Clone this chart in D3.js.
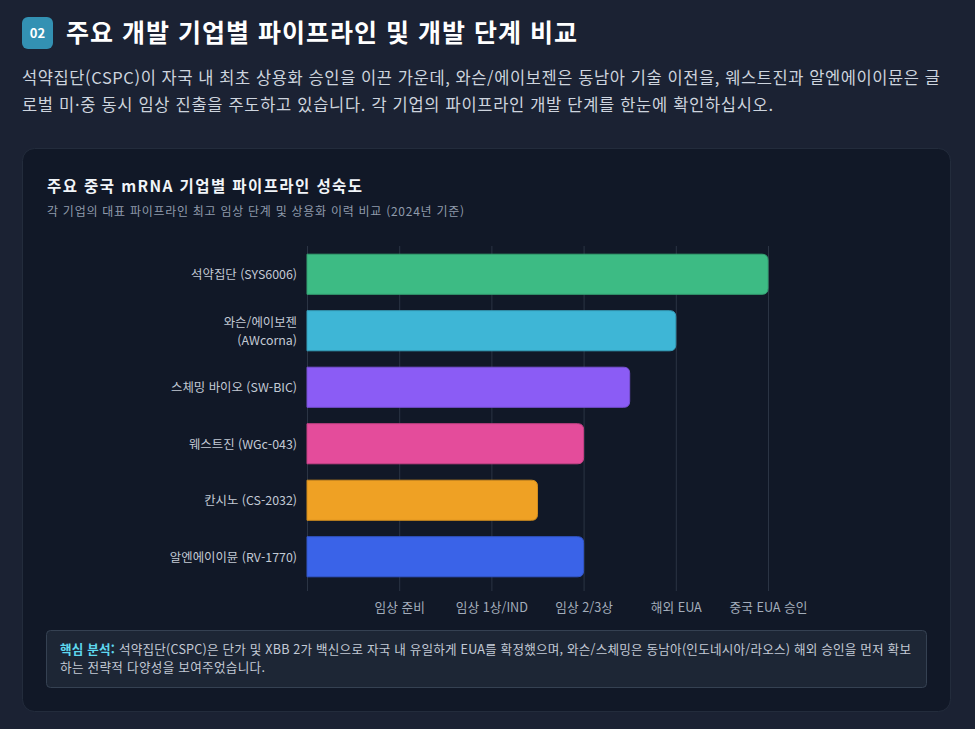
<!DOCTYPE html>
<html lang="ko">
<head>
<meta charset="utf-8">
<script src="https://cdn.jsdelivr.net/npm/d3@7"></script>
<style>
  html, body { margin: 0; padding: 0; background: #1b2233; }
  svg { display: block; font-family: "Noto Sans CJK KR", "Noto Sans", sans-serif; }
</style>
</head>
<body>
<div id="chart"></div>
<script>
const W = 975, H = 729;

// chart data
const companies = [
    ["석약집단 (SYS6006)"],
    ["와슨/에이보젠", "(AWcorna)"],
    ["스체밍 바이오 (SW-BIC)"],
    ["웨스트진 (WGc-043)"],
    ["칸시노 (CS-2032)"],
    ["알엔에이이뮨 (RV-1770)"]
];
const stageValues = [5, 4, 3.5, 3, 2.5, 3];
const barColors = ["#3dbb84", "#3eb6d6", "#8b5cf5", "#e44c9b", "#efa124", "#3a63e8"];
const stageTicks = [0, 1, 2, 3, 4, 5];
const stageLabels = ["", "임상 준비", "임상 1상/IND", "임상 2/3상", "해외 EUA", "중국 EUA 승인"];

// texts
const headTitle = "주요 개발 기업별 파이프라인 및 개발 단계 비교";
const headLines = [
    "석약집단(CSPC)이 자국 내 최초 상용화 승인을 이끈 가운데, 와슨/에이보젠은 동남아 기술 이전을, 웨스트진과 알엔에이이뮨은 글",
    "로벌 미·중 동시 임상 진출을 주도하고 있습니다. 각 기업의 파이프라인 개발 단계를 한눈에 확인하십시오."
];
const headWidths = [918, 751];
const chartTitle = "주요 중국 mRNA 기업별 파이프라인 성숙도";
const chartSub = "각 기업의 대표 파이프라인 최고 임상 단계 및 상용화 이력 비교 (2024년 기준)";
const noteLead = "핵심 분석:";
const noteLines = [
    " 석약집단(CSPC)은 단가 및 XBB 2가 백신으로 자국 내 유일하게 EUA를 확정했으며, 와슨/스체밍은 동남아(인도네시아/라오스) 해외 승인을 먼저 확보",
    "하는 전략적 다양성을 보여주었습니다."
];

const svg = d3.select("#chart").append("svg")
    .attr("width", W)
    .attr("height", H);

// header
svg.append("rect")
    .attr("x", 22).attr("y", 17).attr("width", 31).attr("height", 32)
    .attr("rx", 6).attr("fill", "#3391b3");
svg.append("text")
    .attr("x", 37.5).attr("y", 38)
    .attr("text-anchor", "middle")
    .attr("fill", "#fff").attr("font-size", 13).attr("font-weight", 700)
    .text("02");
svg.append("text")
    .attr("x", 66).attr("y", 42)
    .attr("fill", "#ffffff").attr("font-size", 25).attr("font-weight", 700)
    .attr("textLength", 511).attr("lengthAdjust", "spacing")
    .text(headTitle);
svg.append("g").selectAll("text")
    .data(headLines)
    .join("text")
    .attr("x", 22)
    .attr("y", (d, i) => 84 + i * 27)
    .attr("fill", "#cdd4de").attr("font-size", 16.5)
    .attr("textLength", (d, i) => headWidths[i]).attr("lengthAdjust", "spacing")
    .text(d => d);

// card
svg.append("rect")
    .attr("x", 22.5).attr("y", 148.5).attr("width", 928).attr("height", 563)
    .attr("rx", 12).attr("fill", "#111827").attr("stroke", "#232c3c");
svg.append("text")
    .attr("x", 47).attr("y", 192)
    .attr("fill", "#f1f5f9").attr("font-size", 15.5).attr("font-weight", 700)
    .attr("textLength", 315).attr("lengthAdjust", "spacing")
    .text(chartTitle);
svg.append("text")
    .attr("x", 47).attr("y", 216)
    .attr("fill", "#8f9aab").attr("font-size", 12)
    .attr("textLength", 417).attr("lengthAdjust", "spacing")
    .text(chartSub);

// scales
const x = d3.scaleLinear().domain([0, 5]).range([307, 768]);
const y = d3.scaleBand()
    .domain(d3.range(companies.length))
    .range([246, 585])
    .paddingInner(0.29)
    .paddingOuter(0.145);

// grid + ticks
const xAxis = d3.axisBottom(x)
    .tickValues(stageTicks)
    .tickSize(-(585 - 246) - 6)
    .tickPadding(12)
    .tickFormat((d, i) => stageLabels[i]);
const gx = svg.append("g")
    .attr("transform", `translate(0, ${591})`)
    .call(xAxis);
gx.select(".domain").remove();
gx.selectAll(".tick line").attr("stroke", "#2b3444");
gx.selectAll(".tick text")
    .attr("fill", "#a3adbb").attr("font-size", 12.7)
    .attr("font-family", "\"Noto Sans CJK KR\", sans-serif");

// bars with rounded right end
const r = 6;
function barPath(x0, x1, y0, h) {
    return `M${x0},${y0}H${x1 - r}Q${x1},${y0} ${x1},${y0 + r}V${y0 + h - r}Q${x1},${y0 + h} ${x1 - r},${y0 + h}H${x0}Z`;
}
svg.append("g").selectAll("path")
    .data(stageValues)
    .join("path")
    .attr("d", (d, i) => barPath(x(0), x(d), y(i), y.bandwidth()))
    .attr("fill", (d, i) => barColors[i])
    .attr("stroke", (d, i) => d3.color(barColors[i]).darker(0.4))
    .attr("stroke-width", 1);

// y labels, one text per line so the wrapped label stays apart
const lineGap = 18;
const yLines = companies.flatMap((lines, i) =>
    lines.map((t, j) => ({t, cy: y(i) + y.bandwidth() / 2 + (j - (lines.length - 1) / 2) * lineGap})));
svg.append("g").selectAll("text")
    .data(yLines)
    .join("text")
    .attr("x", 297)
    .attr("y", d => d.cy)
    .attr("text-anchor", "end")
    .attr("fill", "#c3cad5").attr("font-size", 12.4)
    .attr("dominant-baseline", "central")
    .text(d => d.t);

// note box
svg.append("rect")
    .attr("x", 46.5).attr("y", 630.5).attr("width", 880).attr("height", 57)
    .attr("rx", 4).attr("fill", "#1d2635").attr("stroke", "#354152");
const n1 = svg.append("text")
    .attr("x", 60).attr("y", 654)
    .attr("font-size", 12.6).attr("fill", "#c3cad5")
    .attr("textLength", 851).attr("lengthAdjust", "spacing");
n1.append("tspan").attr("font-weight", 700).attr("fill", "#5fd8ef").text(noteLead);
n1.append("tspan").text(noteLines[0]);
svg.append("text")
    .attr("x", 60).attr("y", 672)
    .attr("font-size", 12.6).attr("fill", "#c3cad5")
    .attr("textLength", 205).attr("lengthAdjust", "spacing")
    .text(noteLines[1]);
</script>
</body>
</html>
